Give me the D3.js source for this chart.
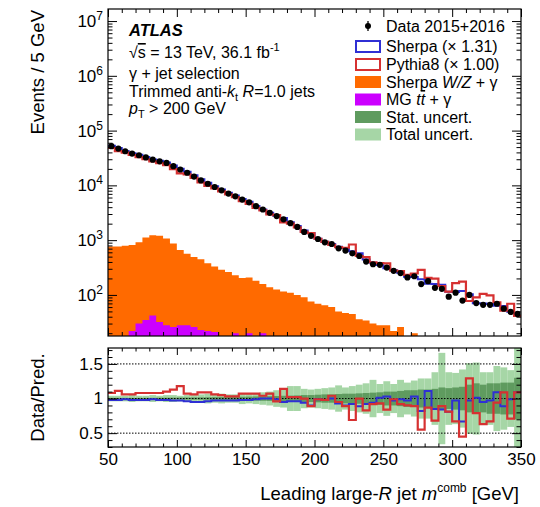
<!DOCTYPE html>
<html><head><meta charset="utf-8">
<script src="https://cdn.jsdelivr.net/npm/d3@7"></script>
<style>
body{margin:0;background:#fff}
svg{display:block}
text{font-family:"Liberation Sans",Arial,Helvetica,sans-serif;fill:#000}
</style>
</head><body>
<svg id="chart" width="540" height="507"></svg>
<script>
// ---------------- data ----------------
const binEdges = d3.range(50, 351, 5); // 5 GeV bins, 50..350
const dataCounts = [52000,47000,42000,38000,35500,32400,29500,27500,25700,22400,
  19500,17000,14500,12300,10700,9330,8130,7080,6310,5500,
  4900,4170,3630,3160,2750,2400,2040,1740,1410,1200,
  1050,912,851,708,646,575,513,407,363,355,
  316,275,251,209,219,158,178,135,129,93,
  110,79,100,71,66,66,69,56,49,45];
const sherpaRatio = [0.98,0.98,0.99,0.98,0.98,0.98,0.99,0.98,0.98,0.97,
  0.97,0.96,0.95,0.95,0.96,0.97,0.97,0.97,0.97,0.98,
  0.98,0.99,1.00,1.00,0.99,0.95,0.96,0.96,0.94,0.90,
  0.99,0.98,1.00,0.93,0.90,0.92,0.89,0.92,0.94,1.01,
  1.03,0.97,0.99,0.97,1.03,0.82,1.11,0.85,0.84,0.81,
  0.97,0.67,0.97,1.01,0.95,0.97,1.09,0.89,0.99,1.09];
const pythiaRatio = [1.08,1.11,1.06,1.06,1.08,1.08,1.08,1.08,1.10,1.13,
  1.18,1.07,1.06,1.09,1.09,1.06,1.05,1.03,1.03,1.07,
  1.07,1.07,1.04,1.07,0.96,1.14,1.02,1.02,1.00,0.89,
  0.99,0.98,1.04,0.95,0.89,0.69,1.00,0.83,0.92,0.93,
  0.84,0.99,0.92,0.90,0.89,0.55,0.87,0.68,0.89,0.81,
  0.67,0.45,1.29,0.79,0.63,0.67,0.94,1.09,0.71,1.09];
const wzGamma = [767,767,794,813,912,1122,1230,1202,1072,871,
  661,562,490,447,380,331,288,263,229,204,
  209,182,158,138,126,115,110,100,91,76,
  69,65,60,50,47,45,36,34,30,28,
  28,22,26,0,20,0,0,0,0,0,
  0,0,0,0,0,0,0,0,0,0];
const ttGamma = [0,0,0,22,30,35,42,32,28,26,
  28,28,26,23,22,21,0,0,20,0,
  20,0,20,0,0,0,0,0,0,0,
  0,0,0,0,0,0,0,0,0,0,
  0,0,0,0,0,0,0,0,0,0,
  0,0,0,0,0,0,0,0,0,0];
const statUnc = [0.01,0.01,0.01,0.01,0.01,0.01,0.01,0.012,0.012,0.013,
  0.014,0.015,0.016,0.017,0.018,0.02,0.021,0.022,0.024,0.026,
  0.028,0.03,0.032,0.034,0.036,0.04,0.042,0.045,0.05,0.05,
  0.055,0.06,0.06,0.065,0.07,0.07,0.075,0.08,0.085,0.09,
  0.10,0.10,0.11,0.12,0.12,0.13,0.13,0.14,0.16,0.15,
  0.16,0.17,0.20,0.22,0.20,0.22,0.22,0.23,0.23,0.30];
const totalUnc = [0.04,0.04,0.04,0.05,0.04,0.04,0.05,0.04,0.05,0.05,
  0.04,0.05,0.05,0.06,0.07,0.06,0.07,0.06,0.06,0.08,
  0.07,0.08,0.09,0.10,0.12,0.13,0.18,0.18,0.14,0.13,
  0.14,0.15,0.16,0.19,0.16,0.18,0.20,0.22,0.27,0.21,
  0.25,0.21,0.27,0.23,0.26,0.29,0.29,0.38,0.66,0.38,
  0.37,0.42,0.51,0.52,0.38,0.38,0.47,0.45,0.41,0.90];
const xTickValues = [50,100,150,200,250,300,350];
const yMainTicks = [1e2,1e3,1e4,1e5,1e6,1e7];
const ratioTicks = [0.5,1,1.5];
const ratioMinor = [0.3,0.4,0.6,0.7,0.8,0.9,1.1,1.2,1.3,1.4,1.6,1.7];

// ---------------- layout ----------------
const FONT = '"Liberation Sans",Arial,Helvetica,sans-serif';
const xL = 108, xR = 521;
const mTop = 9, mBot = 336;
const rTop = 348, rBot = 447;
const C = {blue:"#2f2fd4", red:"#d63131", orange:"#ff6a00", purple:"#cc00ff",
           dark:"#5f9b5f", light:"#a6d6a6"};

const svg = d3.select("#chart");
const x = d3.scaleLinear().domain([50,350]).range([xL,xR]);
const y = d3.scaleLog().domain([Math.pow(10,1.25), Math.pow(10,7.22)]).range([mBot,mTop]);
const yr = d3.scaleLinear().domain([0.3,1.73]).range([rBot,rTop]);

const defs = svg.append("defs");
defs.append("clipPath").attr("id","clipM").append("rect")
  .attr("x",xL).attr("y",mTop).attr("width",xR-xL).attr("height",mBot-mTop);
defs.append("clipPath").attr("id","clipR").append("rect")
  .attr("x",xL).attr("y",rTop).attr("width",xR-xL).attr("height",rBot-rTop);

const nb = dataCounts.length;
const preds = (ratios) => dataCounts.map((d,i)=> d / ratios[i]);

function stepLine(vals, sc) {
  let p = "";
  vals.forEach((v,i)=>{
    const x0 = x(binEdges[i]), x1 = x(binEdges[i+1]);
    const yy = sc(v);
    p += (i===0 ? `M${x0},${yy}` : `V${yy}`) + `H${x1}`;
  });
  return p;
}
function stepArea(vals) {
  let p = `M${x(binEdges[0])},${mBot}`;
  vals.forEach((v,i)=>{
    const yy = v>0 ? Math.min(y(v), mBot) : mBot;
    p += `V${yy}H${x(binEdges[i+1])}`;
  });
  return p + `V${mBot}Z`;
}

// ---------------- main panel ----------------
const gm = svg.append("g").attr("clip-path","url(#clipM)");
gm.append("path").attr("d",stepArea(wzGamma)).attr("fill",C.orange);
gm.append("path").attr("d",stepArea(ttGamma)).attr("fill",C.purple);
gm.append("path").attr("d",stepLine(preds(sherpaRatio), y)).attr("fill","none")
  .attr("stroke",C.blue).attr("stroke-width",2);
gm.append("path").attr("d",stepLine(preds(pythiaRatio), y)).attr("fill","none")
  .attr("stroke",C.red).attr("stroke-width",2.2);
gm.selectAll("circle.data").data(dataCounts).join("circle")
  .attr("class","data")
  .attr("cx",(d,i)=> x((binEdges[i]+binEdges[i+1])/2))
  .attr("cy",d=> y(d)).attr("r",3.1).attr("fill","#000");

// ---------------- ratio panel ----------------
const gr = svg.append("g").attr("clip-path","url(#clipR)");
gr.selectAll("rect.tot").data(totalUnc).join("rect").attr("class","tot")
  .attr("x",(d,i)=> x(binEdges[i])).attr("width",(d,i)=> x(binEdges[i+1])-x(binEdges[i]))
  .attr("y",d=> yr(1+d)).attr("height",d=> yr(1-d)-yr(1+d)).attr("fill",C.light);
gr.selectAll("rect.stat").data(statUnc).join("rect").attr("class","stat")
  .attr("x",(d,i)=> x(binEdges[i])).attr("width",(d,i)=> x(binEdges[i+1])-x(binEdges[i]))
  .attr("y",d=> yr(1+d)).attr("height",d=> yr(1-d)-yr(1+d)).attr("fill",C.dark);
[0.5,1,1.5].forEach(v=>{
  gr.append("line").attr("x1",xL).attr("x2",xR).attr("y1",yr(v)).attr("y2",yr(v))
    .attr("stroke","#000").attr("stroke-width",1).attr("stroke-dasharray","1.5,1.5");
});
gr.append("path").attr("d",stepLine(sherpaRatio, yr)).attr("fill","none")
  .attr("stroke",C.blue).attr("stroke-width",2);
gr.append("path").attr("d",stepLine(pythiaRatio, yr)).attr("fill","none")
  .attr("stroke",C.red).attr("stroke-width",2.2);

// ---------------- axes ----------------
const minorX = d3.range(50,351,10).filter(v=> v%50!==0);
const minorY = [];
for (let e=1; e<=7; e++) for (let k=2; k<=9; k++) {
  const v = k*Math.pow(10,e);
  if (v>=y.domain()[0] && v<=y.domain()[1]) minorY.push(v);
}
function styleAxis(g){
  g.select(".domain").remove();
  g.selectAll("line").attr("stroke","#000").attr("stroke-width",1);
  g.selectAll("text").attr("font-family",FONT).attr("font-size",17).attr("fill","#000");
}
function addAxis(axis, tx, ty){
  const g = svg.append("g").attr("transform",`translate(${tx},${ty})`).call(axis);
  styleAxis(g); return g;
}
// main panel x ticks
addAxis(d3.axisBottom(x).tickValues(xTickValues).tickSize(-8).tickFormat(""),0,mBot);
addAxis(d3.axisBottom(x).tickValues(minorX).tickSize(-4).tickFormat(""),0,mBot);
addAxis(d3.axisTop(x).tickValues(xTickValues).tickSize(-8).tickFormat(""),0,mTop);
addAxis(d3.axisTop(x).tickValues(minorX).tickSize(-4).tickFormat(""),0,mTop);
// main panel y ticks
addAxis(d3.axisLeft(y).tickValues(yMainTicks).tickSize(-9).tickFormat(""),xL,0);
addAxis(d3.axisLeft(y).tickValues(minorY).tickSize(-4.5).tickFormat(""),xL,0);
addAxis(d3.axisRight(y).tickValues(yMainTicks).tickSize(-9).tickFormat(""),xR,0);
addAxis(d3.axisRight(y).tickValues(minorY).tickSize(-4.5).tickFormat(""),xR,0);
// main y labels 10^n
const yl = svg.append("g");
yMainTicks.forEach(v=>{
  const t = yl.append("text").attr("x",xL-5).attr("y",y(v)).attr("dy","0.36em")
    .attr("text-anchor","end").attr("font-size",17);
  t.append("tspan").text("10");
  t.append("tspan").attr("font-size",12).attr("dy",-7).text(Math.round(Math.log10(v)));
});
// ratio x ticks
addAxis(d3.axisBottom(x).tickValues(xTickValues).tickSize(-7).tickPadding(6).tickFormat(d3.format("d")),0,rBot);
addAxis(d3.axisBottom(x).tickValues(minorX).tickSize(-3.5).tickFormat(""),0,rBot);
addAxis(d3.axisTop(x).tickValues(xTickValues).tickSize(-7).tickFormat(""),0,rTop);
addAxis(d3.axisTop(x).tickValues(minorX).tickSize(-3.5).tickFormat(""),0,rTop);
// ratio y ticks
addAxis(d3.axisLeft(yr).tickValues(ratioTicks).tickSize(-9).tickPadding(5).tickFormat(d=> d3.format("")(d)),xL,0);
addAxis(d3.axisLeft(yr).tickValues(ratioMinor).tickSize(-4.5).tickFormat(""),xL,0);
addAxis(d3.axisRight(yr).tickValues(ratioTicks).tickSize(-9).tickFormat(""),xR,0);
addAxis(d3.axisRight(yr).tickValues(ratioMinor).tickSize(-4.5).tickFormat(""),xR,0);

// frames
[[mTop,mBot],[rTop,rBot]].forEach(([t,b])=>{
  svg.append("rect").attr("x",xL).attr("y",t).attr("width",xR-xL).attr("height",b-t)
    .attr("fill","none").attr("stroke","#000").attr("stroke-width",1.2);
});

// axis titles
svg.append("text").attr("transform",`translate(44,${mTop+1}) rotate(-90)`)
  .attr("text-anchor","end").attr("font-size",18.5).text("Events / 5 GeV");
svg.append("text").attr("transform",`translate(44,${(rTop+rBot)/2}) rotate(-90)`)
  .attr("text-anchor","middle").attr("font-size",18.5).text("Data/Pred.");
const xt = svg.append("text").attr("x",xR-2).attr("y",500).attr("text-anchor","end").attr("font-size",18.5);
xt.append("tspan").text("Leading large-");
xt.append("tspan").attr("font-style","italic").text("R");
xt.append("tspan").text(" jet ");
xt.append("tspan").attr("font-style","italic").text("m");
xt.append("tspan").attr("font-size",12).attr("dy",-8).text("comb");
xt.append("tspan").attr("dy",8).text(" [GeV]");

// ATLAS labels
const lx = 129;
svg.append("text").attr("x",lx).attr("y",36).attr("font-size",16.5)
  .attr("font-weight","bold").attr("font-style","italic").text("ATLAS");
const s1 = svg.append("text").attr("x",lx).attr("y",58).attr("font-size",16);
s1.append("tspan").text("\u221A");
s1.append("tspan").attr("text-decoration","overline").text("s");
s1.append("tspan").text(" = 13 TeV, 36.1 fb");
s1.append("tspan").attr("font-size",11).attr("dy",-7).text("-1");
svg.append("text").attr("x",lx).attr("y",79).attr("font-size",16).text("\u03B3 + jet selection");
const s3 = svg.append("text").attr("x",lx).attr("y",97).attr("font-size",16);
s3.append("tspan").text("Trimmed anti-");
s3.append("tspan").attr("font-style","italic").text("k");
s3.append("tspan").attr("font-size",11).attr("dy",4).text("t");
s3.append("tspan").attr("dy",-4).text(" ");
s3.append("tspan").attr("font-style","italic").text("R");
s3.append("tspan").text("=1.0 jets");
const s4 = svg.append("text").attr("x",lx).attr("y",114).attr("font-size",16);
s4.append("tspan").attr("font-style","italic").text("p");
s4.append("tspan").attr("font-size",11).attr("dy",4).text("T");
s4.append("tspan").attr("dy",-4).text(" > 200 GeV");

// legend
const legX = 355, legW = 26, legTX = 386;
const legRows = [26, 46.5, 64.5, 82, 99.5, 117, 134.5];
const lg = svg.append("g");
// data
lg.append("line").attr("x1",legX+legW/2).attr("x2",legX+legW/2).attr("y1",legRows[0]-5).attr("y2",legRows[0]+5)
  .attr("stroke","#000").attr("stroke-width",1.3);
lg.append("circle").attr("cx",legX+legW/2).attr("cy",legRows[0]).attr("r",3).attr("fill","#000");
// outlined boxes
[[1,C.blue],[2,C.red]].forEach(([r,c])=>{
  lg.append("rect").attr("x",legX+1).attr("y",legRows[r]-5.5).attr("width",legW-2).attr("height",11)
    .attr("fill","none").attr("stroke",c).attr("stroke-width",2);
});
[[3,C.orange],[4,C.purple],[5,C.dark],[6,C.light]].forEach(([r,c])=>{
  lg.append("rect").attr("x",legX).attr("y",legRows[r]-6).attr("width",legW).attr("height",12).attr("fill",c);
});
function legText(r){ return lg.append("text").attr("x",legTX).attr("y",legRows[r]+5.5).attr("font-size",16); }
legText(0).text("Data 2015+2016");
legText(1).text("Sherpa (\u00D7 1.31)");
legText(2).text("Pythia8 (\u00D7 1.00)");
const l3 = legText(3); l3.append("tspan").text("Sherpa ");
l3.append("tspan").attr("font-style","italic").text("W/Z");
l3.append("tspan").text(" + \u03B3");
const l4 = legText(4); l4.append("tspan").text("MG ");
l4.append("tspan").attr("font-style","italic").text("t");
l4.append("tspan").attr("font-style","italic").attr("text-decoration","overline").text("t");
l4.append("tspan").text(" + \u03B3");
legText(5).text("Stat. uncert.");
legText(6).text("Total uncert.");
</script>
</body></html>
